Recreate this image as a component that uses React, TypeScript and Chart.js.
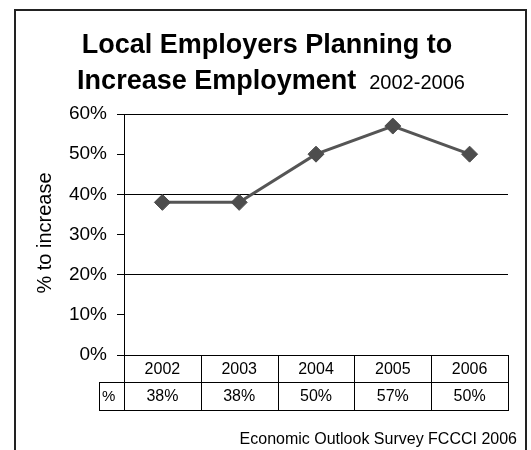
import React, { useEffect, useRef } from "react";
import { Chart, registerables } from "chart.js";

Chart.register(...registerables);

const years = ["2002", "2003", "2004", "2005", "2006"];
const pctValues = [38, 38, 50, 57, 50];
const yMin = 0;
const yMax = 60;
const yStep = 10;
const gridStep = 20;
const titleLine1 = "Local Employers Planning to";
const titleLine2Bold = "Increase Employment";
const titleLine2Normal = "2002-2006";
const yAxisTitle = "% to increase";
const rowLabel = "%";
const sourceNote = "Economic Outlook Survey FCCCI 2006";

const FONT = "'Liberation Sans', Arial, Helvetica, sans-serif";

const decorPlugin = {
  id: "decor",
  beforeDraw(chart: any) {
    const ctx = chart.ctx;
    ctx.save();
    ctx.fillStyle = "#ffffff";
    ctx.fillRect(0, 0, chart.width, chart.height);
    ctx.restore();
  },
  afterDraw(chart: any) {
    const ctx = chart.ctx;
    const x = chart.scales.x;
    const area = chart.chartArea;
    ctx.save();

    // outer frame
    ctx.strokeStyle = "#222";
    ctx.lineWidth = 2;
    ctx.strokeRect(15, 10, 511, 460);

    // title
    ctx.fillStyle = "#000";
    ctx.textBaseline = "alphabetic";
    ctx.textAlign = "center";
    ctx.font = `bold 27px ${FONT}`;
    ctx.fillText(titleLine1, 267, 53);
    const wBold = ctx.measureText(titleLine2Bold).width;
    ctx.font = `20px ${FONT}`;
    const wNorm = ctx.measureText(titleLine2Normal).width;
    const gap = 13;
    const total = wBold + gap + wNorm;
    const startX = 271 - total / 2;
    ctx.textAlign = "left";
    ctx.font = `bold 27px ${FONT}`;
    ctx.fillText(titleLine2Bold, startX, 89);
    ctx.font = `20px ${FONT}`;
    ctx.fillText(titleLine2Normal, startX + wBold + gap, 89);

    // y axis title
    ctx.save();
    ctx.translate(45, 233);
    ctx.rotate(-Math.PI / 2);
    ctx.textAlign = "center";
    ctx.textBaseline = "middle";
    ctx.font = `20px ${FONT}`;
    ctx.fillText(yAxisTitle, 0, 0);
    ctx.restore();

    // data table
    const top = area.bottom;
    const mid = top + 27;
    const bot = top + 55;
    const labelLeft = 99;
    const half = (x.getPixelForValue(1) - x.getPixelForValue(0)) / 2;
    ctx.strokeStyle = "#000";
    ctx.lineWidth = 1;
    ctx.beginPath();
    for (let i = 0; i <= years.length; i++) {
      const px = Math.round(x.getPixelForValue(0) - half + i * 2 * half) + 0.5;
      ctx.moveTo(px, top);
      ctx.lineTo(px, bot);
    }
    ctx.moveTo(labelLeft + 0.5, mid);
    ctx.lineTo(labelLeft + 0.5, bot);
    ctx.moveTo(labelLeft, Math.round(mid) + 0.5);
    ctx.lineTo(area.right + 1, Math.round(mid) + 0.5);
    ctx.moveTo(labelLeft, Math.round(bot) + 0.5);
    ctx.lineTo(area.right + 1, Math.round(bot) + 0.5);
    ctx.stroke();

    ctx.fillStyle = "#000";
    ctx.textBaseline = "middle";
    ctx.textAlign = "center";
    ctx.font = `16px ${FONT}`;
    years.forEach((yr, i) => {
      const px = x.getPixelForValue(i);
      ctx.fillText(yr, px, (top + mid) / 2 + 1);
      ctx.fillText(pctValues[i] + "%", px, (mid + bot) / 2 + 1);
    });
    ctx.textAlign = "left";
    ctx.font = `15px ${FONT}`;
    ctx.fillText(rowLabel, labelLeft + 3, (mid + bot) / 2 + 1);

    // source note
    ctx.textAlign = "right";
    ctx.textBaseline = "alphabetic";
    ctx.font = `16px ${FONT}`;
    ctx.fillText(sourceNote, 517, 444);

    ctx.restore();
  },
};

export default function App() {
  const ref = useRef<HTMLCanvasElement | null>(null);

  useEffect(() => {
    if (!ref.current) return;
    const chart = new Chart(ref.current, {
      type: "line",
      data: {
        labels: years,
        datasets: [
          {
            data: pctValues,
            borderColor: "#555555",
            borderWidth: 3,
            pointStyle: "rectRot",
            pointRadius: 8,
            pointBackgroundColor: "#4d4d4d",
            pointBorderColor: "#4d4d4d",
            pointBorderWidth: 1,
            tension: 0,
            fill: false,
            clip: false as any,
          },
        ],
      },
      options: {
        responsive: false,
        animation: false,
        devicePixelRatio: 1,
        layout: { padding: { left: 0, top: 114, right: 23, bottom: 95 } },
        plugins: {
          legend: { display: false },
          title: { display: false },
          tooltip: { enabled: false },
        },
        scales: {
          x: {
            type: "category",
            display: false,
            offset: true,
          },
          y: {
            min: yMin,
            max: yMax,
            afterFit: (scale: any) => {
              scale.width = 124;
            },
            ticks: {
              stepSize: yStep,
              color: "#000",
              padding: 10,
              font: { family: FONT, size: 19 },
              callback: (v: any) => v + "%",
            },
            grid: {
              color: (c: any) =>
                c.tick && c.tick.value % gridStep === 0 ? "#000" : "rgba(0,0,0,0)",
              tickColor: "#000",
              tickLength: 7,
              lineWidth: 1,
              drawTicks: true,
            },
            border: { display: true, color: "#000", width: 1 },
          },
        },
      },
      plugins: [decorPlugin],
    });
    return () => chart.destroy();
  }, []);

  return (
    <div style={{ position: "fixed", left: 0, top: 0, width: 531, height: 450, background: "#fff" }}>
      <canvas ref={ref} width={531} height={450} style={{ display: "block" }} />
    </div>
  );
}
